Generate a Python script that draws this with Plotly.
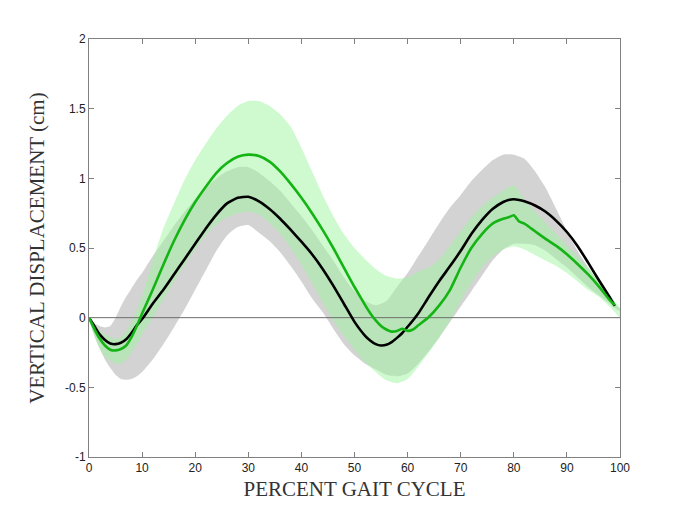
import plotly.graph_objects as go

# ---- data ----
x_mean = [0, 1, 2, 3, 4, 5, 6, 7, 8, 9, 10, 12, 14, 16, 18, 20, 22, 24, 26, 28, 30, 32,
          34, 36, 38, 40, 42, 44, 46, 48, 50, 52, 53, 54, 55, 56, 57, 58, 59, 60, 61, 62, 64,
          66, 68, 70, 72, 74, 76, 78, 79, 80, 81, 82, 84, 86, 88, 90, 92, 94, 96, 98, 99]

black_mean = [0, -0.06, -0.12, -0.16, -0.185, -0.19, -0.18, -0.155, -0.11, -0.055, -0.01, 0.10,
              0.20, 0.31, 0.42, 0.53, 0.64, 0.74, 0.82, 0.86, 0.868, 0.835,
              0.78, 0.71, 0.63, 0.545, 0.455, 0.35, 0.23, 0.10, -0.03, -0.13, -0.165, -0.19, -0.2,
              -0.195, -0.175, -0.145, -0.11, -0.065, -0.02, 0.03, 0.15,
              0.265, 0.37, 0.48, 0.60, 0.70, 0.78, 0.83, 0.845, 0.85, 0.845, 0.835, 0.805, 0.76,
              0.695, 0.615, 0.515, 0.395, 0.27, 0.15, 0.085]

green_mean = [0, -0.08, -0.15, -0.2, -0.23, -0.235, -0.225, -0.2, -0.14, -0.06, 0.03, 0.2,
              0.38, 0.55, 0.70, 0.83, 0.94, 1.04, 1.11, 1.155, 1.17, 1.16,
              1.12, 1.05, 0.96, 0.86, 0.75, 0.63, 0.50, 0.36, 0.22, 0.09, 0.03, -0.02, -0.06,
              -0.085, -0.1, -0.095, -0.08, -0.095, -0.085, -0.055, 0.005,
              0.09, 0.20, 0.36, 0.50, 0.60, 0.675, 0.71, 0.72, 0.735, 0.69, 0.675, 0.62, 0.565,
              0.515, 0.455, 0.385, 0.31, 0.225, 0.13, 0.09]

x_band = [0, 1, 2, 3, 4, 5, 6, 7, 8, 9, 10, 12, 14, 16, 18, 20, 22, 24, 26, 28, 30, 32, 34, 36,
          38, 40, 42, 44, 46, 48, 50, 52, 54, 56, 58, 60, 62, 64, 66, 68, 70, 72, 74, 76, 78,
          80, 82, 84, 86, 88, 90, 92, 94, 96, 98, 99, 100]

gray_upper = [0, -0.04, -0.06, -0.07, -0.06, 0.0, 0.08, 0.15, 0.21, 0.27, 0.32, 0.44, 0.55,
              0.66, 0.76, 0.85, 0.93, 1.0, 1.05, 1.08, 1.08, 1.04, 0.98, 0.91,
              0.82, 0.73, 0.63, 0.52, 0.41, 0.29, 0.19, 0.12, 0.09, 0.12, 0.22, 0.32, 0.44, 0.56,
              0.68, 0.79, 0.88, 0.98, 1.06, 1.13, 1.17,
              1.17, 1.14, 1.05, 0.93, 0.78, 0.62, 0.48, 0.36, 0.25, 0.15, 0.1, 0.06]

gray_lower = [0, -0.13, -0.22, -0.3, -0.36, -0.41, -0.44, -0.445, -0.44, -0.42, -0.39, -0.3,
              -0.19, -0.07, 0.06, 0.2, 0.34, 0.48, 0.59, 0.65, 0.665, 0.61, 0.55, 0.47,
              0.37, 0.26, 0.14, 0.04, -0.08, -0.19, -0.27, -0.33, -0.37, -0.41, -0.42, -0.4,
              -0.33, -0.24, -0.14, -0.03, 0.08, 0.19, 0.3, 0.41, 0.49,
              0.53, 0.53, 0.52, 0.48, 0.42, 0.36, 0.29, 0.22, 0.16, 0.1, 0.07, 0.05]

green_upper = [0, -0.05, -0.09, -0.12, -0.14, -0.15, -0.14, -0.1, -0.03, 0.06, 0.15, 0.41,
               0.64, 0.82, 0.99, 1.13, 1.25, 1.36, 1.45, 1.52, 1.555, 1.555, 1.52, 1.46,
               1.37, 1.22, 1.05, 0.88, 0.73, 0.6, 0.5, 0.42, 0.35, 0.3, 0.28, 0.29, 0.33, 0.36,
               0.42, 0.52, 0.62, 0.72, 0.8, 0.86, 0.91,
               0.95, 0.85, 0.76, 0.68, 0.6, 0.52, 0.44, 0.36, 0.27, 0.17, 0.12, 0.07]

green_lower = [0, -0.13, -0.22, -0.28, -0.31, -0.33, -0.33, -0.3, -0.25, -0.19, -0.12, 0.0,
               0.13, 0.26, 0.38, 0.49, 0.59, 0.67, 0.72, 0.75, 0.76, 0.74, 0.68, 0.6,
               0.5, 0.38, 0.25, 0.11, -0.02, -0.13, -0.23, -0.32, -0.39, -0.45, -0.47, -0.44,
               -0.35, -0.25, -0.14, -0.02, 0.12, 0.25, 0.36, 0.44, 0.49,
               0.51, 0.49, 0.45, 0.41, 0.37, 0.32, 0.26, 0.2, 0.15, 0.08, 0.04, 0.0]

x_ticks = [0, 10, 20, 30, 40, 50, 60, 70, 80, 90, 100]
y_ticks = [-1, -0.5, 0, 0.5, 1, 1.5, 2]
y_tick_text = ["-1", "-0.5", "0", "0.5", "1", "1.5", "2"]

x_title = "PERCENT GAIT CYCLE"
y_title = "VERTICAL DISPLACEMENT (cm)"

# ---- figure ----
fig = go.Figure()


def band(xs, up, lo, color):
    return go.Scatter(
        x=list(xs) + list(xs)[::-1],
        y=list(up) + list(lo)[::-1],
        fill="toself", fillcolor=color, mode="lines",
        line=dict(width=0, color=color, shape="spline", smoothing=0.6),
        hoverinfo="skip", showlegend=False,
    )


fig.add_trace(band(x_band, gray_upper, gray_lower, "rgba(167,167,167,0.5)"))
fig.add_trace(band(x_band, green_upper, green_lower, "rgba(160,245,160,0.5)"))

# zero reference line
fig.add_trace(go.Scatter(x=[x_ticks[0], x_ticks[-1]], y=[0, 0], mode="lines",
                         line=dict(color="rgb(110,110,110)", width=1),
                         hoverinfo="skip", showlegend=False))

fig.add_trace(go.Scatter(x=x_mean, y=black_mean, mode="lines",
                         line=dict(color="black", width=2.6, shape="spline", smoothing=0.5),
                         showlegend=False))
fig.add_trace(go.Scatter(x=x_mean, y=green_mean, mode="lines",
                         line=dict(color="rgb(20,180,20)", width=2.6, shape="spline", smoothing=0.5),
                         showlegend=False))

axis_common = dict(
    showline=True, linecolor="rgb(128,128,128)", linewidth=1, mirror="ticks",
    ticks="inside", ticklen=5, tickcolor="rgb(128,128,128)",
    showgrid=False, zeroline=False,
    tickfont=dict(family="Liberation Sans, Arial, sans-serif", size=12, color="#222"),
)

fig.update_layout(
    width=677, height=505,
    margin=dict(l=81, r=65, t=31, b=56),
    plot_bgcolor="white", paper_bgcolor="white",
    xaxis=dict(range=[0, 100], tickvals=x_ticks,
               title=dict(text=x_title, standoff=6,
                          font=dict(family="Liberation Serif, Times New Roman, serif",
                                    size=21, color="#333")),
               **axis_common),
    yaxis=dict(range=[-1, 2], tickvals=y_ticks, ticktext=y_tick_text,
               title=dict(text=y_title, standoff=14,
                          font=dict(family="Liberation Serif, Times New Roman, serif",
                                    size=21, color="#333")),
               **axis_common),
)

fig.write_html("out.html")
